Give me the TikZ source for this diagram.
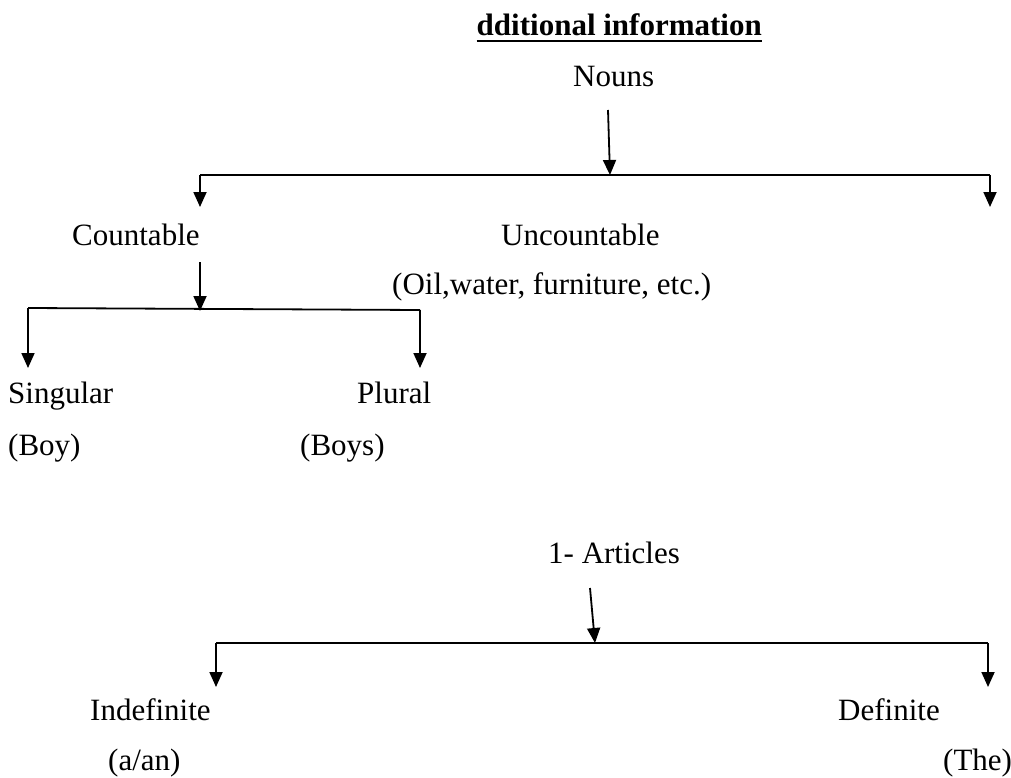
\documentclass[tikz,border=0pt]{standalone}
\usepackage{fontspec}
\setmainfont{Liberation Serif}
\usetikzlibrary{arrows.meta}
\begin{document}
\begin{tikzpicture}[x=1pt,y=-1pt,
  lbl/.style={inner sep=0pt, font=\fontsize{31}{37}\selectfont},
  ttl/.style={inner sep=0pt, font=\fontsize{31}{37}\selectfont\bfseries},
  ln/.style={line width=1.8pt},
  arr/.style={line width=1.8pt,-{Triangle[width=13pt,length=15pt]}}]
\useasboundingbox (0,0) rectangle (1011,778);
% texts
\node[ttl, anchor=base east] (title) at (762,36) {dditional information};
\draw[line width=2.6pt] ([yshift=-5pt]title.base west) -- ([yshift=-5pt]title.base east);
\node[lbl, anchor=base west] (nouns) at (573,87) {Nouns};
\node[lbl, anchor=base west] (countable) at (72,245) {Countable};
\node[lbl, anchor=base west] (uncountable) at (501,245) {Uncountable};
\node[lbl, anchor=base west] (oil) at (392,294) {(Oil,water, furniture, etc.)};
\node[lbl, anchor=base west] (singular) at (8,403) {Singular};
\node[lbl, anchor=base west] (plural) at (357,403) {Plural};
\node[lbl, anchor=base west] (boy) at (8,455) {(Boy)};
\node[lbl, anchor=base west] (boys) at (300,455) {(Boys)};
\node[lbl, anchor=base west] (articles) at (548,563) {1- Articles};
\node[lbl, anchor=base west] (indef) at (90,720) {Indefinite};
\node[lbl, anchor=base west] (def) at (838,720) {Definite};
\node[lbl, anchor=base west] (aan) at (108,770) {(a/an)};
\node[lbl, anchor=base west] (the) at (943,770) {(The)};
% coordinates
\coordinate (n1) at (608,110);
\coordinate (n2) at (610,175);
\coordinate (b1L) at (200,175);
\coordinate (b1R) at (990,175);
\coordinate (b1Ld) at (200,207);
\coordinate (b1Rd) at (990,207);
\coordinate (c1) at (200,262);
\coordinate (c2) at (200,311);
\coordinate (b2L) at (28,308);
\coordinate (b2R) at (420,310);
\coordinate (b2Ld) at (28,368);
\coordinate (b2Rd) at (420,368);
\coordinate (a1) at (590,588);
\coordinate (a2) at (595,643);
\coordinate (b3L) at (216,643);
\coordinate (b3R) at (988,643);
\coordinate (b3Ld) at (216,687);
\coordinate (b3Rd) at (988,687);
% connectors
\draw[arr] (n1) -- (n2);
\draw[ln] (b1L) -- (b1R);
\draw[arr] (b1L) -- (b1Ld);
\draw[arr] (b1R) -- (b1Rd);
\draw[arr] (c1) -- (c2);
\draw[ln] (b2L) -- (b2R);
\draw[arr] (b2L) -- (b2Ld);
\draw[arr] (b2R) -- (b2Rd);
\draw[arr] (a1) -- (a2);
\draw[ln] (b3L) -- (b3R);
\draw[arr] (b3L) -- (b3Ld);
\draw[arr] (b3R) -- (b3Rd);
\end{tikzpicture}
\end{document}
